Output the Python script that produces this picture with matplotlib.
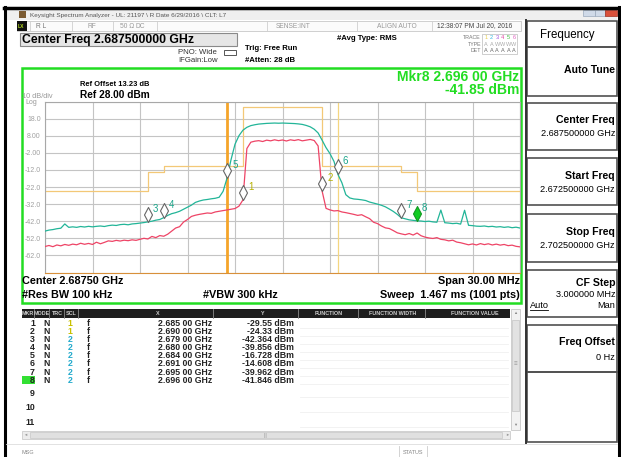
import numpy as np
import matplotlib
matplotlib.use("Agg")
import matplotlib.pyplot as plt
from matplotlib.patches import Rectangle
from matplotlib.path import Path

plt.rcParams['font.family'] = ['Liberation Sans', 'DejaVu Sans']

# sweep: 2.6725 .. 2.7025 GHz, values read every 0.25 MHz
start_ghz = 2.6725
stop_ghz = 2.7025

trace1_dbm = [-56.8, -56.2, -56.9, -55.9, -56.4, -55.6, -56.1, -55.4, -55.8, -54.9,
              -55.5, -55.0, -55.6, -54.3, -55.2, -54.4, -53.5, -53.8, -53.2, -53.6,
              -53.1, -53.4, -52.9, -53.2, -52.6, -52.0, -52.4, -50.9, -51.6, -50.4,
              -50.8, -49.6, -47.8, -46.0, -45.2, -42.5, -41.0, -39.2, -38.5, -38.0,
              -37.6, -37.2, -37.4, -36.6, -36.2, -35.8, -35.4, -35.0, -34.6, -33.2,
              -29.6, 0.5, 4.2, 4.8, 5.1, 4.6, 5.4, 5.0, 5.6, 5.1,
              5.5, 4.9, 5.6, 5.2, 5.7, 5.0, 5.4, 5.8, 5.2, 2.0,
              -24.3, -34.5, -35.4, -36.0, -35.8, -36.6, -37.0, -37.5, -38.0, -38.6,
              -38.2, -39.4, -40.5, -42.6, -43.4, -44.8, -45.9, -46.3, -47.5, -48.8,
              -49.4, -49.9, -49.2, -50.1, -48.9, -50.5, -51.3, -51.8, -52.1, -51.6,
              -52.6, -52.9, -53.5, -53.1, -54.2, -54.6, -55.2, -55.8, -55.3, -55.9,
              -55.1, -55.7, -55.2, -55.9, -55.4, -56.0, -55.6, -56.3, -56.0, -56.7,
              -57.0]

trace2_dbm = [-47.8, -47.2, -46.9, -46.4, -46.1, -43.6, -45.6, -45.3, -45.6, -45.1,
              -45.4, -45.0, -45.3, -45.0, -44.8, -45.1, -44.6, -44.3, -44.5, -44.0,
              -43.8, -44.1, -43.6, -43.4, -43.1, -42.8, -42.4, -42.0, -41.4, -41.0,
              -39.9, -38.6, -37.6, -37.0, -36.2, -35.0, -33.8, -32.6, -31.0, -30.2,
              -29.6, -29.3, -28.9, -28.6, -28.0, -24.5, -16.7, -6.0, 3.0, 8.0,
              11.2, 12.9, 13.9, 14.4, 14.8, 15.0, 15.2, 15.3, 15.4, 15.3,
              15.4, 15.3, 15.2, 15.1, 14.9, 14.6, 14.0, 13.2, 11.8, 9.6,
              5.4, 1.0, -2.5, -7.0, -14.6, -19.5, -26.5, -28.4, -29.0, -29.2,
              -29.5, -29.9, -30.8, -31.4, -32.0, -32.7, -33.6, -34.9, -36.3, -38.0,
              -40.0, -40.6, -41.2, -41.5, -41.8, -41.9, -42.2, -42.0, -42.4, -42.6,
              -35.5, -42.9, -43.1, -43.4, -43.2, -43.7, -35.6, -44.4, -44.6, -44.9,
              -45.0, -44.8, -45.2, -45.0, -45.4, -45.2, -45.6, -45.3, -45.8, -45.5,
              -46.0]

limit_ghz = [2.6725, 2.679, 2.680, 2.685, 2.690, 2.695, 2.696, 2.7025]
limit_dbm = [-24.5, -13, -10, 24.5, -10, -13, -24.5, -24.5]

mkr_num = [1, 2, 3, 4, 5, 6, 7, 8]
mkr_trc = [1, 1, 2, 2, 2, 2, 2, 2]
mkr_ghz = [2.685, 2.690, 2.679, 2.680, 2.684, 2.691, 2.695, 2.696]
mkr_dbm = [-29.55, -24.33, -42.364, -39.856, -16.728, -14.608, -39.962, -41.846]
mkr_x_txt = ['2.685 00 GHz', '2.690 00 GHz', '2.679 00 GHz', '2.680 00 GHz',
             '2.684 00 GHz', '2.691 00 GHz', '2.695 00 GHz', '2.696 00 GHz']
mkr_y_txt = ['-29.55 dBm', '-24.33 dBm', '-42.364 dBm', '-39.856 dBm',
             '-16.728 dBm', '-14.608 dBm', '-39.962 dBm', '-41.846 dBm']

ytick_dbm = [28, 18, 8, -2, -12, -22, -32, -42, -52, -62, -72]
ytick_lbl = ['', '18.0', '8.00', '-2.00', '-12.0', '-22.0', '-32.0', '-42.0', '-52.0', '-62.0', '']

RED = '#ee4466'
TEAL = '#22b598'
GREEN = '#22dd22'

W, H = 621, 457
fig = plt.figure(figsize=(W / 100, H / 100), dpi=100)
fig.patch.set_facecolor('white')

ui = fig.add_axes([0, 0, 1, 1])
ui.set_xlim(0, W)
ui.set_ylim(H, 0)
ui.axis('off')


def box(x0, y0, x1, y1, fc='none', ec='none', lw=1.0, z=1):
    ui.add_patch(Rectangle((x0, y0), x1 - x0, y1 - y0, facecolor=fc,
                           edgecolor=ec, linewidth=lw, zorder=z))


def txt(x, y, s, size, ha='left', color='black', weight='normal', z=3):
    ui.text(x, y, s, fontsize=size, ha=ha, va='center', color=color,
            fontweight=weight, zorder=z)


# screenshot frame
ui.plot([4.5, 4.5], [7, H], color='black', lw=2.2)
ui.plot([4, 619], [8, 8], color='black', lw=2.5)
ui.plot([618.5, 618.5], [7, H], color='black', lw=2.2)

# title bar
box(6, 9.5, 617, 20, fc='#efefef')
box(19, 11, 26, 18, fc='#7b5b32')
txt(30, 15, 'Keysight Spectrum Analyzer - UL: 21197 \\ R Date 6/29/2016 \\ CLT: L7', 4.6, color='#555555')
box(583, 9.5, 595, 16, fc='#d0dae8', ec='#9aa8bb', lw=0.5)
box(595, 9.5, 605, 16, fc='#d0dae8', ec='#9aa8bb', lw=0.5)
box(605, 9.5, 617, 16, fc='#d9503a', ec='#a03020', lw=0.5)

# status row
box(17, 21, 521, 31, fc='#fbfbfb', ec='#c8c8c8', lw=0.6)
box(17, 21, 27, 31, fc='#111111')
txt(18, 26, 'LX', 3.6, color='#b8e020', weight='bold')
for sx in [30, 72, 113, 157, 267, 357, 432]:
    ui.plot([sx, sx], [21, 31], color='#cfcfcf', lw=0.6)
txt(36, 26, 'R L', 4.8, color='#777777')
txt(87, 26, 'RF', 4.8, color='#999999')
txt(120, 26, '50 Ω', 4.8, color='#999999')
txt(135, 26, 'DC', 4.8, color='#999999')
txt(293, 26, 'SENSE:INT', 4.8, ha='center', color='#999999')
txt(397, 26, 'ALIGN AUTO', 4.8, ha='center', color='#999999')
txt(475, 26, '12:38:07 PM Jul 20, 2016', 4.8, ha='center', color='#444444')

# centre freq banner
box(20, 33, 237, 46, fc='#e6e6e6', ec='#8a8a8a', lw=0.8)
txt(22, 39.7, 'Center Freq 2.687500000 GHz', 8.8, weight='bold')
txt(178, 52, 'PNO: Wide', 5.6, color='#333333')
txt(178, 61, 'IFGain:Low', 5.6, color='#333333')
box(224, 49.5, 236, 55, ec='#555555', lw=0.7)
txt(245, 48.5, 'Trig: Free Run', 5.6, weight='bold')
txt(245, 60, '#Atten: 28 dB', 5.6, weight='bold')
txt(337, 38, '#Avg Type: RMS', 5.6, weight='bold')

# trace / type / det block
txt(481, 37.5, 'TRACE', 3.8, ha='right', color='#777777')
txt(481, 44, 'TYPE', 3.8, ha='right', color='#777777')
txt(481, 50.5, 'DET', 3.8, ha='right', color='#777777')
box(482, 34, 517, 54, ec='#bbbbbb', lw=0.5)
trace_cols = ['#e8d050', '#30b8e0', '#a050e0', '#e040a0', '#40c040', '#e060c0']
for i, c in enumerate(trace_cols):
    xx = 486 + i * 5.6
    txt(xx, 37.5, str(i + 1), 4.0, ha='center', color=c)
    txt(xx, 44, 'A' if i < 2 else 'W', 4.0, ha='center', color='#aaaaaa')
    txt(xx, 50.5, 'A', 4.0, ha='center', color='#666666')

# green measurement frame
box(22, 68, 521, 303, ec=GREEN, lw=1.8, z=2)
txt(80, 85, 'Ref Offset 13.23 dB', 5.4, weight='bold')
txt(80, 95.5, 'Ref 28.00 dBm', 7.3, weight='bold')
txt(22, 96.5, '10 dB/div', 5.3, color='#999999')
txt(25, 103, 'Log', 5.0, color='#999999')
txt(519, 77, 'Mkr8 2.696 00 GHz', 10, ha='right', color=GREEN, weight='bold')
txt(519, 90, '-41.85 dBm', 10, ha='right', color=GREEN, weight='bold')

txt(22, 281.5, 'Center 2.68750 GHz', 7.8, weight='bold')
txt(520, 281.5, 'Span 30.00 MHz', 7.8, ha='right', weight='bold')
txt(22, 295, '#Res BW 100 kHz', 7.8, weight='bold')
txt(203, 295, '#VBW 300 kHz', 7.8, weight='bold')
txt(520, 295, 'Sweep  1.467 ms (1001 pts)', 7.8, ha='right', weight='bold')

# marker table
box(22, 309, 510, 317.5, fc='#1e1e1e')
hdr = [('MKR', 28), ('MODE', 42), ('TRC', 57), ('SCL', 71), ('X', 158),
       ('Y', 263), ('FUNCTION', 329), ('FUNCTION WIDTH', 393), ('FUNCTION VALUE', 475)]
for label, hx in hdr:
    txt(hx, 313.3, label, 3.9, ha='center', color='#cccccc', weight='bold')
for sx in [34, 49, 64, 78, 213, 298, 358, 425]:
    ui.plot([sx, sx], [309, 317.5], color='#8a8a8a', lw=0.6)

row_y = [323.5 + i * 8.1 for i in range(8)] + [393, 408, 422.5]
for ry in row_y:
    ui.plot([300, 508], [ry + 4.2, ry + 4.2], color='#f0f0f0', lw=0.6)
box(22, row_y[7] - 4.2, 35, row_y[7] + 4.2, fc='#33e033')
for i, ry in enumerate(row_y):
    txt(35, ry, str(i + 1), 6.3, ha='right', color='#222222', weight='bold')
for i in range(len(mkr_num)):
    ry = row_y[i]
    tc = '#c8c000' if mkr_trc[i] == 1 else '#22aacc'
    txt(47, ry, 'N', 6.3, ha='center', color='#222222', weight='bold')
    txt(70, ry, str(mkr_trc[i]), 6.3, ha='center', color=tc, weight='bold')
    txt(88, ry, 'f', 6.3, ha='center', color='#222222', weight='bold')
    txt(212, ry, mkr_x_txt[i], 6.3, ha='right', color='#222222', weight='bold')
    txt(294, ry, mkr_y_txt[i], 6.3, ha='right', color='#222222', weight='bold')

# scroll bars
box(511, 309, 520, 430, fc='#f2f2f2', ec='#c8c8c8', lw=0.6)
box(512, 320, 519, 411, fc='#e2e2e2', ec='#c4c4c4', lw=0.5)
txt(515.5, 313, '▲', 3.0, ha='center', color='#888888')
txt(515.5, 425, '▼', 3.0, ha='center', color='#888888')
txt(515.5, 364, '≡', 4.5, ha='center', color='#999999')
box(22, 431, 510, 439, fc='#ececec', ec='#cccccc', lw=0.6)
box(30, 432, 502, 438, fc='#e0e0e0', ec='#c8c8c8', lw=0.5)
txt(265, 435, '|||', 3.5, ha='center', color='#999999')
txt(25, 435, '◄', 3.0, ha='center', color='#999999')
txt(507, 435, '►', 3.0, ha='center', color='#999999')

# bottom status line
ui.plot([6, 617], [444, 444], color='#dddddd', lw=0.6)
txt(22, 452, 'MSG', 4.0, color='#888888')
ui.plot([399, 399], [446, 457], color='#cccccc', lw=0.6)
ui.plot([427, 427], [446, 457], color='#cccccc', lw=0.6)
txt(413, 452, 'STATUS', 4.0, ha='center', color='#888888')

# soft keys
ui.plot([525.5, 525.5], [20, 443], color='#333333', lw=1.4)
box(527, 21, 617, 47, ec='#454545', lw=1.1)
txt(567, 35, 'Frequency', 8.3, ha='center')
keys = [(47, 96), (103, 150), (158, 205), (214, 262), (270, 317), (325, 372), (372, 442)]
for y0, y1 in keys:
    box(527, y0, 617, y1, ec='#505050', lw=1.2)
txt(615, 70, 'Auto Tune', 7.6, ha='right', weight='bold')
txt(615, 120, 'Center Freq', 7.6, ha='right', weight='bold')
txt(615, 134, '2.687500000 GHz', 6.6, ha='right')
txt(615, 176, 'Start Freq', 7.6, ha='right', weight='bold')
txt(615, 189.5, '2.672500000 GHz', 6.6, ha='right')
txt(615, 232, 'Stop Freq', 7.6, ha='right', weight='bold')
txt(615, 245.5, '2.702500000 GHz', 6.6, ha='right')
txt(615, 283, 'CF Step', 7.6, ha='right', weight='bold')
txt(615, 294.5, '3.000000 MHz', 6.6, ha='right')
txt(530, 305.5, 'Auto', 6.6)
ui.plot([530, 548], [310, 310], color='black', lw=0.6)
txt(615, 305.5, 'Man', 6.6, ha='right')
txt(615, 342, 'Freq Offset', 7.6, ha='right', weight='bold')
txt(615, 357, '0 Hz', 6.6, ha='right')

# spectrum plot
top_px, bot_px, left_px, right_px = 101.5, 272.5, 45, 520
ax = fig.add_axes([left_px / W, 1 - bot_px / H, (right_px - left_px) / W, (bot_px - top_px) / H])
ax.set_facecolor('white')
freq = np.linspace(start_ghz, stop_ghz, len(trace1_dbm))
ax.set_xlim(start_ghz, stop_ghz)
ax.set_ylim(-72, 28)
ax.set_xticks(np.linspace(start_ghz, stop_ghz, 11))
ax.set_yticks(ytick_dbm)
ax.set_yticklabels(ytick_lbl)
ax.tick_params(length=0, labelbottom=False, labelleft=True, labelsize=5,
               labelcolor='#a0a0a0', pad=3)
ax.grid(True, color='#c4c4c4', lw=0.8)
for s in ax.spines.values():
    s.set_color('#a8a8a8')
    s.set_linewidth(0.8)
ax.spines['bottom'].set_color('#d8903a')

ax.step(limit_ghz, limit_dbm, where='post', color='#f3c877', lw=0.9, zorder=2)
ax.axvline(2.684, color='#f5a52a', lw=2.0, zorder=2)
ax.axvline(2.691, color='#f4d680', lw=0.9, zorder=2)
ax.plot(freq, trace1_dbm, color=RED, lw=0.9, zorder=3)
ax.plot(freq, trace2_dbm, color=TEAL, lw=0.9, zorder=3)

diamond = Path([(0, 0), (-4, 7.5), (0, 15), (4, 7.5), (0, 0)],
               [Path.MOVETO, Path.LINETO, Path.LINETO, Path.LINETO, Path.CLOSEPOLY])
for i in range(len(mkr_num)):
    active = mkr_num[i] == 8
    ax.plot(mkr_ghz[i], mkr_dbm[i], marker=diamond, markersize=21.6,
            markerfacecolor='#11cc22' if active else 'white',
            markeredgecolor='#119922' if active else '#666666',
            markeredgewidth=0.8, zorder=5, clip_on=False)
    lc = '#b5b000' if mkr_trc[i] == 1 else '#1aa58a'
    ax.annotate(str(mkr_num[i]), (mkr_ghz[i], mkr_dbm[i]), xytext=(5, 13),
                textcoords='offset pixels', fontsize=7, color=lc,
                ha='left', va='center', zorder=6)

fig.savefig('out.png', dpi=100)
